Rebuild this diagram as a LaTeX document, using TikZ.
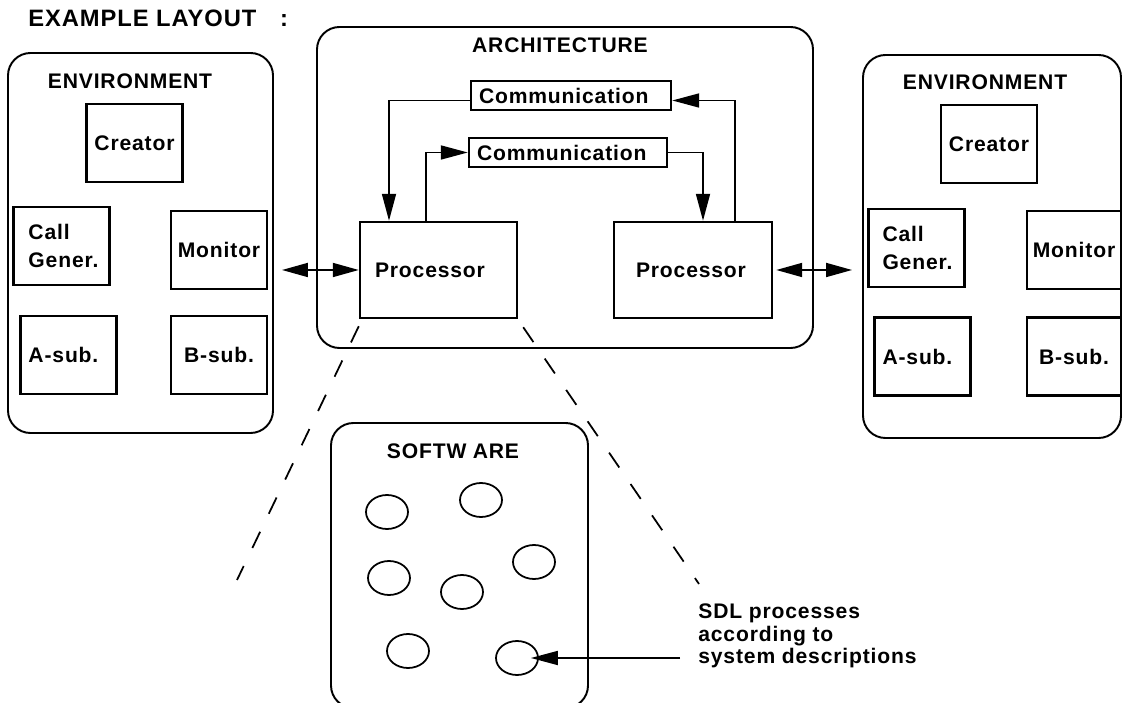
\documentclass[tikz,border=0pt]{standalone}
\usepackage{fontspec}
\setmainfont{Liberation Sans}[LetterSpace=4]
\usetikzlibrary{arrows.meta,shapes.geometric}
\tikzset{frame node/.style={draw,line width=1.1pt,rounded corners=4.5mm,inner sep=0pt},
            block node/.style={draw,line width=1.6pt,minimum width=19.2mm,minimum height=15.6mm,inner sep=0pt,font=\fontsize{12}{13}\selectfont\bfseries},
            label node/.style={inner sep=0pt,font=\fontsize{12}{13}\selectfont\bfseries},
            sdl node/.style={ellipse,draw,line width=1pt,minimum width=8.4mm,minimum height=6.8mm,inner sep=0pt},
            flow/.style={line width=1pt,-{Triangle[length=5.4mm,width=2.8mm]}},
            link/.style={line width=1pt,{Triangle[length=5.2mm,width=2.8mm]}-{Triangle[length=5.2mm,width=2.8mm]}},
            zoom line/.style={line width=1pt,dash pattern=on 3.6mm off 4mm}
            }

\begin{document}
\begin{tikzpicture}[x=0.2mm,y=-0.2mm]
\useasboundingbox (0,0) rectangle (1123,703);
\node[anchor=west,inner sep=0pt,font=\fontsize{13.5}{16}\selectfont\bfseries] (title) at (28,18) {EXAMPLE LAYOUT\quad:};

% left environment
\node[frame node,minimum width=53mm,minimum height=76mm] (envL) at (140.5,243) {};
\node[label node] (envLname) at (130,81) {ENVIRONMENT};
\node[block node] (creatorL) at (134.5,143) {Creator};
\node[block node,align=left,inner xsep=3mm,text width=13.2mm] (callL) at (61.5,246) {Call\\[3pt]Gener.};
\node[block node] (monitorL) at (219,250) {Monitor};
\node[block node,align=left,inner xsep=1.6mm,text width=16mm] (asubL) at (68.5,355) {A-sub.};
\node[block node] (bsubL) at (219,355) {B-sub.};

% architecture
\node[frame node,minimum width=99.2mm,minimum height=64.2mm] (arch) at (565,187.5) {};
\node[label node] (archname) at (560,45) {ARCHITECTURE};
\node[block node,line width=1.4pt,minimum width=40mm,minimum height=5.8mm,align=left,inner xsep=1.6mm,text width=36.8mm] (comm1) at (571,95.5) {Communication};
\node[block node,line width=1.4pt,minimum width=39.6mm,minimum height=5.8mm,align=left,inner xsep=1.6mm,text width=36.4mm] (comm2) at (568,152.5) {Communication};
\node[block node,line width=1.4pt,minimum height=19.2mm,align=left,inner xsep=3mm,text width=25.4mm] (procL) at (438.5,270) {Processor};
\node[block node,line width=1.4pt,minimum height=19.2mm,align=left,inner xsep=4.4mm,text width=22.8mm] (procR) at (693,270) {Processor};

\draw[flow] ([yshift=-1mm]comm1.west) -| ([xshift=-9.9mm]procL.north);
\draw[flow] ([xshift=-2.5mm]procL.north) |- (comm2.west);
\draw[flow] (comm2.east) -| ([xshift=2mm]procR.north);
\draw[flow] ([xshift=8.4mm]procR.north) |- ([yshift=-1mm]comm1.east);

% right environment
\node[frame node,minimum width=51.6mm,minimum height=76.6mm] (envR) at (992,246.5) {};
\node[label node] (envRname) at (985,82) {ENVIRONMENT};
\node[block node] (creatorR) at (989,144) {Creator};
\node[block node,align=left,inner xsep=2.8mm,text width=13.6mm] (callR) at (916.5,248) {Call\\[3pt]Gener.};
\node[block node,minimum width=18.8mm] (monitorR) at (1074,250) {Monitor};
\node[block node,align=left,inner xsep=1.6mm,text width=16mm] (asubR) at (922.5,356.5) {A-sub.};
\node[block node,minimum width=18.8mm] (bsubR) at (1074,356.5) {B-sub.};

\draw[link,shorten <=1.6mm] (envL.east |- procL.west) -- (procL.west);
\draw[link,shorten <=0.6mm,shorten >=2mm] (procR.east) -- (envR.west |- procR.east);

% software
\coordinate (zoomL) at (237,580);
\coordinate (zoomR) at (699,584);
\draw[zoom line] ([yshift=-1.4mm]procL.south west) -- (zoomL);
\draw[zoom line] ([shift={(1mm,-1.6mm)}]procL.south east) -- (zoomR);

\node[frame node,minimum width=51.4mm,minimum height=57mm] (soft) at (459.5,565.5) {};
\node[label node] (softname) at (453,451) {SOFTW\hspace{0.3em}ARE};
\foreach \n/\px/\py in {1/387/512,2/481/500,3/534/562,4/389/578,5/462/592,6/408/651,7/517/658}
  \node[sdl node] (p\n) at (\px,\py) {};

\coordinate (sdlfrom) at (680,658);
\draw[flow] (sdlfrom) -- ([xshift=-1.6mm]p7.east);
\node[label node,anchor=west,align=left,font=\fontsize{12}{12.8}\selectfont\bfseries] (sdlnote) at (698,636) {SDL processes\\according to\\system descriptions};
\end{tikzpicture}
\end{document}
